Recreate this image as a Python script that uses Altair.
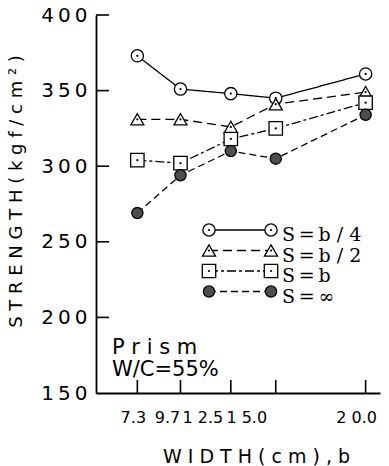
import altair as alt
import pandas as pd

# ---- data -------------------------------------------------------------
widths = [7.3, 9.7, 12.5, 15.0, 20.0]                     # specimen width b (cm)
series = ["S=b/4", "S=b/2", "S=b", "S=∞"]
strength_b4 = [373, 351, 348, 345, 361]                   # kgf/cm²
strength_b2 = [331, 331, 326, 341, 349]
strength_b1 = [304, 302, 318, 325, 342]
strength_inf = [269, 294, 310, 305, 334]

legend_labels = ["S\u2009=\u2009b / 4", "S\u2009=\u2009b / 2", "S\u2009=\u2009b", "S\u2009=\u2009∞"]
x_tick_labels = ["7.3", "9.7", "1 2.5", "1 5.0", "2 0.0"]
y_ticks = [150, 200, 250, 300, 350, 400]
y_tick_labels = ["1\u20095\u20090", "2\u20090\u20090", "2\u20095\u20090",
                 "3\u20090\u20090", "3\u20095\u20090", "4\u20090\u20090"]
note_lines = ["P r i s m", "W/C=55%"]

# ---- layout / style ----------------------------------------------------
W, H = 284, 378
TICK = 13
x_label_shift = [-4, -13, -28, -29, -9]
FONT = "DejaVu Sans"

styles = {
    "S=b/4": dict(shape="circle", fill="white", dash=[1, 0], size=150),
    "S=b/2": dict(shape="triangle-up", fill="white", dash=[9, 5], size=170),
    "S=b": dict(shape="square", fill="white", dash=[9, 3, 3, 3], size=180),
    "S=∞": dict(shape="circle", fill="#4d4d4d", dash=[7, 4], size=125),
}

values = dict(zip(series, [strength_b4, strength_b2, strength_b1, strength_inf]))
df = pd.DataFrame(
    [{"series": s, "width": w, "strength": v}
     for s in series for w, v in zip(widths, values[s])]
)

x_scale = alt.Scale(domain=[5, 20.8], nice=False, zero=False)
y_scale = alt.Scale(domain=[150, 400], nice=False, zero=False)


def label_expr(ticks, labels):
    expr = "''"
    for t, lab in reversed(list(zip(ticks, labels))):
        expr = f"datum.value == {t} ? '{lab}' : ({expr})"
    return expr


x_axis = alt.Axis(
    values=widths, ticks=False, grid=False, labels=False,
    domainColor="black", domainWidth=1.8,
    title="W I D T H  ( c m ) ,  b",
    titleFont=FONT, titleFontSize=19, titleFontWeight="normal", titleColor="black",
    titleX=160, titleY=69, titleBaseline="alphabetic", titleAlign="center",
)
y_axis = alt.Axis(
    values=y_ticks, ticks=False, grid=False,
    domainColor="black", domainWidth=1.8,
    labelExpr=label_expr(y_ticks, y_tick_labels),
    labelFont=FONT, labelFontSize=20, labelColor="black", labelPadding=9,
    title="S T R E N G T H  ( k g f / c m ² )",
    titleFont=FONT, titleFontSize=18, titleFontWeight="normal", titleColor="black",
    titleX=-80, titleY=176, titleBaseline="middle", titleAlign="center",
)

X = alt.X("width:Q", scale=x_scale, axis=x_axis)
Y = alt.Y("strength:Q", scale=y_scale, axis=y_axis)

base = alt.Chart(df)
layers = []

# connecting lines
for s in series:
    st = styles[s]
    layers.append(
        base.transform_filter(alt.datum.series == s)
        .mark_line(color="black", strokeWidth=1.3, strokeDash=st["dash"])
        .encode(x=X, y=Y)
    )

# symbols with their centre dots
for s in series:
    st = styles[s]
    layers.append(
        base.transform_filter(alt.datum.series == s)
        .mark_point(shape=st["shape"], filled=True, fill=st["fill"], stroke="black",
                    strokeWidth=1.3, size=st["size"], opacity=1)
        .encode(x=X, y=Y)
    )
    if st["fill"] == "white":
        layers.append(
            base.transform_filter(alt.datum.series == s)
            .mark_point(shape="circle", filled=True, color="black", size=5, opacity=1)
            .encode(x=X, y=Y)
        )

# inward tick marks
ytick_df = pd.DataFrame({"strength": y_ticks[1:]})
layers.append(
    alt.Chart(ytick_df).mark_rule(color="black", strokeWidth=1.6)
    .encode(y=Y, x=alt.value(0), x2=alt.value(TICK))
)
xtick_df = pd.DataFrame({"width": widths, "label": x_tick_labels})
layers.append(
    alt.Chart(xtick_df).mark_rule(color="black", strokeWidth=1.6)
    .encode(x=X, y=alt.value(H), y2=alt.value(H - TICK))
)

# width tick labels, each nudged as typed
for w, lab, shift in zip(widths, x_tick_labels, x_label_shift):
    layers.append(
        alt.Chart(xtick_df).transform_filter(alt.datum.width == w)
        .mark_text(font=FONT, fontSize=16, dx=shift, baseline="middle", color="black")
        .encode(x=X, text="label:N", y=alt.value(H + 25))
    )

# legend block
LEG_X0, LEG_X1, LEG_TX, LEG_Y0, LEG_DY = 113, 175, 186, 215, 20.5
for i, (s, lab) in enumerate(zip(series, legend_labels)):
    st = styles[s]
    ry = LEG_Y0 + LEG_DY * i
    one = alt.Chart(pd.DataFrame({"series": [s]}))
    layers.append(
        one.mark_rule(color="black", strokeWidth=1.3, strokeDash=st["dash"])
        .encode(x=alt.value(LEG_X0), x2=alt.value(LEG_X1), y=alt.value(ry))
    )
    for px in (LEG_X0, LEG_X1):
        layers.append(
            one.mark_point(shape=st["shape"], filled=True, fill=st["fill"], stroke="black",
                           strokeWidth=1.3, size=st["size"], opacity=1)
            .encode(x=alt.value(px), y=alt.value(ry))
        )
        if st["fill"] == "white":
            layers.append(
                one.mark_point(shape="circle", filled=True, color="black", size=5, opacity=1)
                .encode(x=alt.value(px), y=alt.value(ry))
            )
    layers.append(
        one.mark_text(text=lab, font="DejaVu Serif", fontSize=19, align="left",
                      baseline="alphabetic", color="black")
        .encode(x=alt.value(LEG_TX), y=alt.value(ry + 11))
    )

# specimen note
for i, line in enumerate(note_lines):
    layers.append(
        alt.Chart(pd.DataFrame({"t": [line]}))
        .mark_text(font=FONT, fontSize=21, align="left", baseline="middle", color="black")
        .encode(text="t:N", x=alt.value(16), y=alt.value(333 + 22 * i))
    )

chart = (
    alt.layer(*layers)
    .properties(width=W, height=H,
                padding={"left": 96, "top": 15, "right": 9, "bottom": 73},
                autosize=alt.AutoSizeParams(type="none"))
    .configure_view(stroke=None)
)

chart.save("out.html", embed_options={"renderer": "svg", "actions": False})
